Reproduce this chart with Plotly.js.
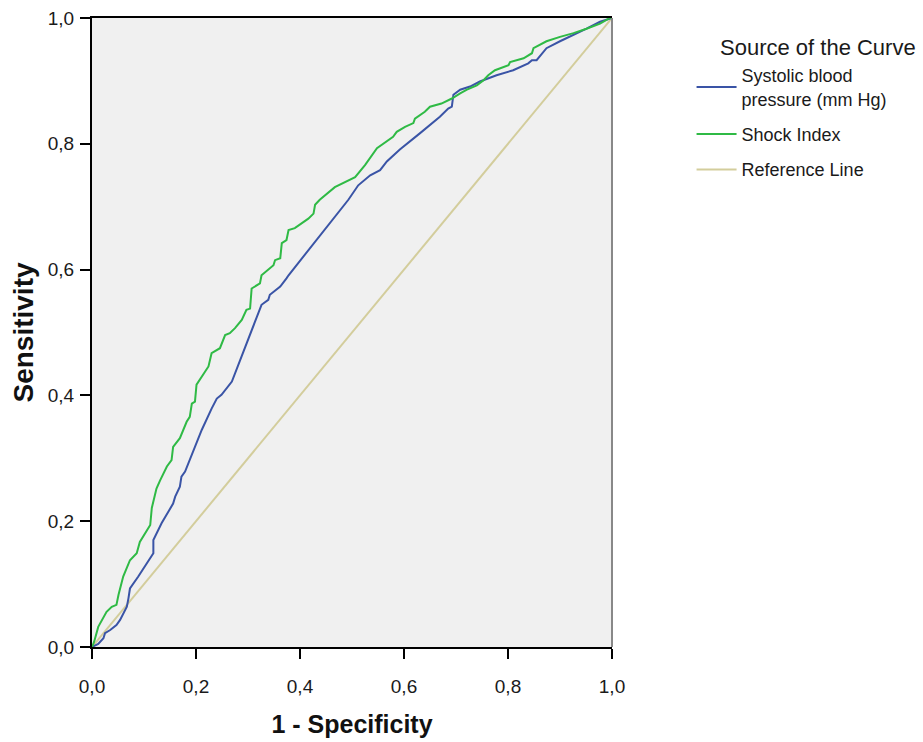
<!DOCTYPE html>
<html>
<head>
<meta charset="utf-8">
<script src="https://cdn.plot.ly/plotly-3.0.1.min.js"></script>
<style>html,body{margin:0;padding:0;background:#fff;}#chart{width:923px;height:742px;}</style>
</head>
<body>
<div id="chart"></div>
<script>
// Systolic blood pressure (mm Hg) ROC curve: 1 - specificity, sensitivity
const sbpFpr = [0, 0.012, 0.022, 0.025, 0.035, 0.047, 0.054, 0.057, 0.067, 0.070, 0.073, 0.089, 0.112, 0.118, 0.118, 0.134, 0.156, 0.160, 0.169, 0.172, 0.179, 0.198, 0.211, 0.230, 0.237, 0.240, 0.249, 0.269, 0.326, 0.333, 0.339, 0.342, 0.362, 0.374, 0.378, 0.493, 0.512, 0.535, 0.554, 0.567, 0.592, 0.631, 0.669, 0.685, 0.692, 0.695, 0.708, 0.727, 0.746, 0.778, 0.810, 0.839, 0.846, 0.855, 0.865, 0.868, 0.874, 0.900, 0.926, 0.951, 0.977, 0.996, 1.0];
const sbpTpr = [0, 0.005, 0.014, 0.022, 0.027, 0.035, 0.043, 0.048, 0.064, 0.077, 0.093, 0.112, 0.141, 0.149, 0.170, 0.197, 0.228, 0.239, 0.255, 0.271, 0.279, 0.318, 0.345, 0.379, 0.390, 0.395, 0.401, 0.422, 0.544, 0.549, 0.552, 0.560, 0.573, 0.586, 0.591, 0.711, 0.734, 0.750, 0.758, 0.772, 0.791, 0.817, 0.843, 0.856, 0.859, 0.878, 0.886, 0.891, 0.899, 0.909, 0.917, 0.928, 0.933, 0.933, 0.944, 0.946, 0.952, 0.963, 0.973, 0.983, 0.994, 1.0, 1.0];

// Shock Index ROC curve
const siFpr = [0, 0.004, 0.012, 0.019, 0.028, 0.038, 0.047, 0.051, 0.060, 0.073, 0.086, 0.092, 0.102, 0.112, 0.115, 0.124, 0.131, 0.144, 0.153, 0.156, 0.169, 0.176, 0.182, 0.188, 0.192, 0.198, 0.201, 0.224, 0.230, 0.246, 0.256, 0.265, 0.275, 0.288, 0.297, 0.304, 0.307, 0.323, 0.326, 0.349, 0.352, 0.362, 0.365, 0.374, 0.378, 0.390, 0.416, 0.426, 0.429, 0.438, 0.467, 0.506, 0.525, 0.548, 0.579, 0.586, 0.602, 0.618, 0.621, 0.640, 0.650, 0.672, 0.692, 0.708, 0.721, 0.740, 0.753, 0.762, 0.775, 0.801, 0.804, 0.830, 0.839, 0.846, 0.849, 0.874, 0.900, 0.926, 0.951, 0.977, 0.996, 1.0];
const siTpr = [0, 0.008, 0.032, 0.043, 0.056, 0.064, 0.067, 0.083, 0.112, 0.138, 0.149, 0.167, 0.181, 0.194, 0.221, 0.252, 0.265, 0.287, 0.297, 0.318, 0.332, 0.345, 0.358, 0.366, 0.387, 0.390, 0.417, 0.446, 0.467, 0.475, 0.496, 0.499, 0.507, 0.520, 0.536, 0.538, 0.570, 0.578, 0.591, 0.607, 0.615, 0.618, 0.642, 0.647, 0.663, 0.666, 0.681, 0.689, 0.703, 0.711, 0.731, 0.747, 0.766, 0.793, 0.811, 0.819, 0.827, 0.833, 0.840, 0.851, 0.859, 0.864, 0.872, 0.880, 0.886, 0.893, 0.901, 0.909, 0.917, 0.925, 0.930, 0.936, 0.941, 0.944, 0.952, 0.963, 0.970, 0.976, 0.983, 0.991, 1.0, 1.0];

// Reference line
const refX = [0, 1];
const refY = [0, 1];

const seriesNames = ["Systolic blood<br>pressure (mm Hg)", "Shock Index", "Reference Line"];
const legendTitle = "Source of the Curve";
const tickVals = [0, 0.2, 0.4, 0.6, 0.8, 1.0];
const tickText = ["0,0", "0,2", "0,4", "0,6", "0,8", "1,0"];

const FONT = "Liberation Sans, Arial, sans-serif";

const data = [
  {x: refX, y: refY, name: seriesNames[2], mode: "lines", legendgroup: "c", legendrank: 3,
   line: {color: "#d3cd9c", width: 2}},
  {x: sbpFpr, y: sbpTpr, name: seriesNames[0], mode: "lines", legendgroup: "a", legendrank: 1,
   line: {color: "#3a54a6", width: 2}},
  {x: siFpr, y: siTpr, name: seriesNames[1], mode: "lines", legendgroup: "b", legendrank: 2,
   line: {color: "#2fba45", width: 2}}
];

const layout = {
  width: 923, height: 742,
  margin: {l: 92, r: 311, t: 18, b: 95},
  paper_bgcolor: "#ffffff",
  plot_bgcolor: "#f0f0f0",
  font: {family: FONT, color: "#1a1a1a", size: 18},
  showlegend: true,
  legend: {
    x: 1.153, y: 0.938, xanchor: "left", yanchor: "top",
    traceorder: "grouped", tracegroupgap: 9,
    font: {family: FONT, size: 18, color: "#1a1a1a"},
    bgcolor: "rgba(0,0,0,0)", itemwidth: 40
  },
  annotations: [
    {text: legendTitle, xref: "paper", yref: "paper", x: 1.203, y: 0.953,
     xanchor: "left", yanchor: "middle", showarrow: false,
     font: {family: FONT, size: 22, color: "#1a1a1a"}}
  ],
  xaxis: {
    range: [0, 1], tickvals: tickVals, ticktext: tickText,
    ticks: "outside", ticklen: 10, tickwidth: 2, tickcolor: "#000",
    ticklabelstandoff: 11,
    showline: true, linecolor: "#000", linewidth: 2, mirror: true,
    showgrid: false, zeroline: false,
    tickfont: {family: FONT, size: 19, color: "#1a1a1a"},
    title: {text: "<b>1 - Specificity</b>", font: {family: FONT, size: 25, color: "#111"}, standoff: 20}
  },
  yaxis: {
    range: [0, 1], tickvals: tickVals, ticktext: tickText,
    ticks: "outside", ticklen: 10, tickwidth: 2, tickcolor: "#000",
    ticklabelstandoff: 2,
    showline: true, linecolor: "#000", linewidth: 2,
    showgrid: false, zeroline: false,
    tickfont: {family: FONT, size: 19, color: "#1a1a1a"},
    title: {text: "<b>Sensitivity</b>", font: {family: FONT, size: 28, color: "#111"}, standoff: 6}
  },
  shapes: [
    {type: "line", xref: "paper", yref: "paper", x0: 1, x1: 1, y0: 0, y1: 1,
     line: {color: "#888888", width: 2}}
  ]
};

Plotly.newPlot("chart", data, layout, {displayModeBar: false, staticPlot: true});
</script>
</body>
</html>
